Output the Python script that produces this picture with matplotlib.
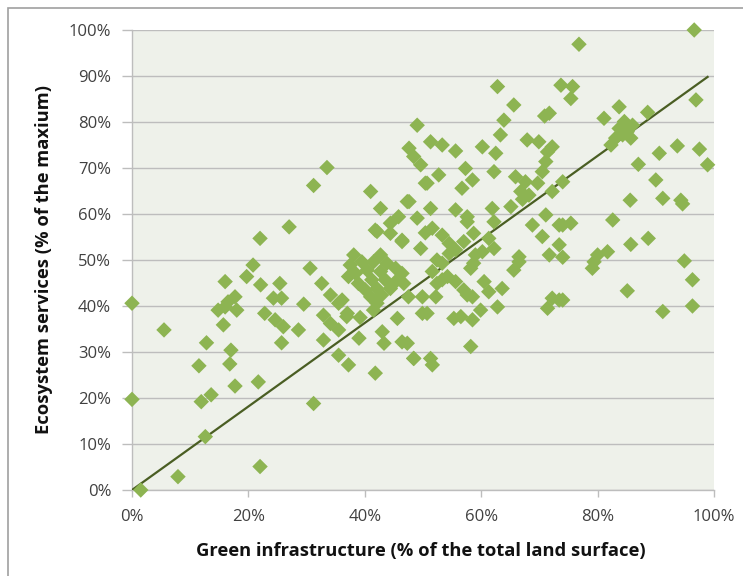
import matplotlib
matplotlib.use("Agg")
import matplotlib.pyplot as plt
from matplotlib.patches import Rectangle
from matplotlib.ticker import FuncFormatter

# Green infrastructure (% of total land surface) and ecosystem services (% of maximum)
green_infra = [
    0.0, 0.0, 1.5, 5.5, 7.9, 11.5, 11.9, 12.6, 12.8, 13.6, 14.8, 15.7, 16.0, 16.0, 16.5,
    16.8, 17.0, 17.7, 17.7, 18.0, 19.7, 20.8, 21.7, 22.0, 22.0, 22.1, 22.8, 24.3, 24.6,
    25.4, 25.7, 25.7, 26.0, 27.0,
    28.6, 29.5, 30.6, 31.2, 31.2, 32.6, 32.9, 32.9, 33.5, 34.1, 34.1, 35.5, 35.5, 35.5,
    36.9, 37.2, 39.0, 39.2, 41.0, 41.8, 41.8, 42.7, 43.0, 43.3, 44.4, 45.6, 45.8, 46.4,
    46.4, 47.3, 47.5, 48.4, 49.0, 49.6, 49.9, 50.4, 50.4, 50.7,
    38.1, 39.5, 37.5, 42.7, 41.5, 43.8, 45.3, 46.4, 38.4, 37.2, 40.4, 42.7, 38.9, 41.2,
    43.5, 45.3, 46.7, 40.1, 42.1, 44.4, 41.0, 42.9, 42.1, 41.5, 42.1, 44.4, 46.4, 52.4,
    51.6, 52.4, 36.1, 37.0,
    62.8, 73.7, 65.6, 71.7, 70.9, 63.9, 49.0, 63.3, 51.3, 53.3, 55.6, 60.2, 62.5, 67.9,
    69.9, 72.2, 47.6, 48.4, 49.6, 57.3, 62.2, 58.5, 52.7, 50.7, 56.7, 71.4, 71.1, 70.5,
    65.9, 67.6, 69.7, 66.8, 68.2, 72.2, 74.0, 47.6, 51.3, 55.6, 57.6, 61.9, 65.1, 62.2,
    71.1, 68.8, 73.4, 51.6, 53.3, 54.5, 58.7, 61.3, 70.5, 57.0, 60.2, 62.2, 73.4, 74.0,
    71.7, 66.5,
    57.6, 55.6, 58.7, 54.2, 67.1,
    54.5, 53.3, 59.0, 58.2, 66.5, 65.6, 53.3, 52.2, 55.6, 57.0, 58.5, 60.5, 61.3, 63.6,
    62.8, 59.9, 58.5, 56.5, 55.3, 49.9, 47.3, 58.2, 48.4, 51.3, 51.6, 72.2, 73.4, 71.4,
    57.6,
    96.6, 76.8, 75.7, 75.4, 96.9, 83.7, 81.1, 88.6, 84.6, 86.0, 83.7, 85.1, 83.1, 82.3,
    85.7, 84.3, 93.7, 97.5, 90.6, 98.9, 87.0, 90.0, 91.2, 94.3, 94.6, 85.6, 82.6, 75.4,
    74.0, 88.7, 85.7, 81.7, 80.0, 94.9, 79.4, 79.1, 96.3, 85.1, 91.2, 96.3, 74.0,
]
eco_services = [
    40.6, 19.7, 0.0, 34.8, 2.9, 27.0, 19.2, 11.6, 32.0, 20.7, 39.1, 35.9, 45.3, 39.8, 40.9,
    27.4, 30.4, 42.0, 22.6, 39.1, 46.4, 48.9, 23.5, 54.7, 5.1, 44.6, 38.4, 41.7, 37.0,
    44.9, 41.7, 32.0, 35.5, 57.2,
    34.8, 40.4, 48.2, 66.2, 18.8, 44.9, 38.0, 32.6, 70.1, 42.4, 36.2, 40.6, 34.8, 29.3,
    37.7, 27.2, 33.0, 37.5, 64.9, 56.5, 25.4, 61.2, 34.4, 31.9, 58.0, 37.3, 59.4, 54.3,
    32.2, 62.7, 42.0, 28.6, 59.1, 52.5, 42.0, 66.7, 55.9, 38.4,
    51.1, 49.6, 48.9, 51.1, 49.6, 49.3, 48.2, 47.1, 47.1, 46.4, 47.8, 47.5, 44.9, 45.7,
    45.7, 45.3, 44.9, 43.5, 43.8, 43.8, 42.0, 42.4, 40.6, 39.1, 56.2, 55.8, 54.0, 50.0,
    47.5, 44.9, 41.3, 38.4,
    87.7, 88.0, 83.7, 81.9, 81.3, 80.4, 79.3, 77.2, 75.7, 75.0, 73.7, 74.6, 73.2, 76.1,
    75.7, 74.6, 74.3, 72.5, 70.7, 69.9, 69.2, 67.4, 68.5, 66.7, 65.6, 73.5, 71.4, 69.2,
    68.1, 67.0, 66.7, 64.9, 64.1, 64.9, 67.0, 62.7, 61.2, 60.9, 59.4, 61.2, 61.6, 58.3,
    59.8, 57.6, 57.6, 56.9, 55.4, 53.6, 55.8, 54.7, 55.1, 54.0, 51.8, 52.5, 53.3, 50.6,
    51.1, 50.7,
    58.3, 52.2, 49.3, 46.4, 63.2,
    51.4, 49.3, 51.1, 48.2, 49.6, 47.8, 45.7, 42.0, 45.3, 43.5, 42.0, 45.3, 43.1, 43.8,
    39.8, 39.1, 37.0, 37.7, 37.3, 38.4, 31.9, 31.2, 28.6, 28.6, 27.2, 41.7, 41.3, 39.5,
    42.4,
    100.0, 96.9, 87.7, 85.1, 84.8, 83.3, 80.8, 82.1, 80.1, 79.3, 78.6, 77.9, 76.5, 75.0,
    76.5, 77.2, 74.8, 74.1, 73.2, 70.7, 70.8, 67.4, 63.4, 63.0, 62.2, 63.0, 58.7, 58.0,
    57.6, 54.7, 53.4, 51.8, 51.1, 49.8, 49.6, 48.2, 45.7, 43.3, 38.8, 40.0, 41.3,
]

trend_x = [0.0, 98.9]
trend_y = [0.0, 89.8]

x_ticks = [0, 20, 40, 60, 80, 100]
y_ticks = [0, 10, 20, 30, 40, 50, 60, 70, 80, 90, 100]

x_label = "Green infrastructure (% of the total land surface)"
y_label = "Ecosystem services (% of the maxium)"

FONT = ["Open Sans", "DejaVu Sans"]
plt.rcParams["font.family"] = FONT

W, H = 743, 576
fig = plt.figure(figsize=(W / 100, H / 100), dpi=100)
fig.patch.set_facecolor("white")
ax = fig.add_axes([132 / W, (H - 490) / H, (714 - 132) / W, (490 - 30) / H])
ax.set_facecolor("#EEF1EA")

grid_c = "#BDBDBD"
for y in y_ticks:
    ax.axhline(y, color=grid_c, lw=1.0, zorder=1)

ax.plot(trend_x, trend_y, color="#4A5E23", lw=1.6, zorder=3)
ax.scatter(green_infra, eco_services, marker="D", s=62, color="#8DB452",
           edgecolors="none", zorder=4, clip_on=False)

ax.set_xlim(0, 100)
ax.set_ylim(0, 100)
ax.set_xticks(x_ticks)
ax.set_yticks(y_ticks)
pct = FuncFormatter(lambda v, p: f"{v:.0f}%")
ax.xaxis.set_major_formatter(pct)
ax.yaxis.set_major_formatter(pct)
ax.tick_params(axis="y", length=7, width=1, color=grid_c, pad=8,
               labelsize=12, labelcolor="#404040")
ax.tick_params(axis="x", length=5, width=1, color=grid_c, pad=9,
               labelsize=12, labelcolor="#404040")
for s in ["top", "right"]:
    ax.spines[s].set_visible(False)
for s in ["left", "bottom"]:
    ax.spines[s].set_color(grid_c)
    ax.spines[s].set_linewidth(1.0)

fig.text(421 / W, 1 - 551 / H, x_label, ha="center", va="center",
         fontsize=13.2, fontweight="bold", color="#111111")
fig.text(44 / W, 1 - 259 / H, y_label, ha="center", va="center", rotation=90,
         fontsize=13.2, fontweight="bold", color="#111111")

# outer frame of the chart image
fig.add_artist(Rectangle((8 / W, -0.05), 1.2, (H - 8) / H + 0.05,
                         transform=fig.transFigure, fill=False,
                         edgecolor="#A0A0A0", lw=1.2))

fig.savefig("out.png", dpi=100)
